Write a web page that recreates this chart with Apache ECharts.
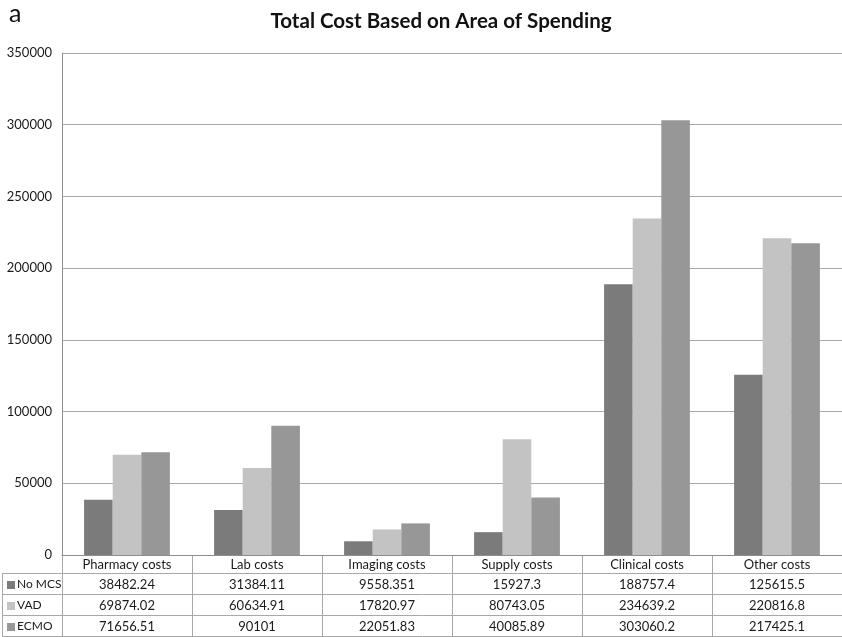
<!DOCTYPE html>
<html>
<head>
<meta charset="utf-8">
<script src="https://cdn.jsdelivr.net/npm/echarts@6/dist/echarts.min.js"></script>
<style>
html,body{margin:0;padding:0;background:#fff;}
#main{width:842px;height:637px;}
</style>
</head>
<body>
<div id="main"></div>
<script>
const categories = ['Pharmacy costs', 'Lab costs', 'Imaging costs', 'Supply costs', 'Clinical costs', 'Other costs'];
const seriesNames = ['No MCS', 'VAD', 'ECMO'];
const noMCS = [38482.24, 31384.11, 9558.351, 15927.3, 188757.4, 125615.5];
const vad = [69874.02, 60634.91, 17820.97, 80743.05, 234639.2, 220816.8];
const ecmo = [71656.51, 90101, 22051.83, 40085.89, 303060.2, 217425.1];
const tableText = [
  ['38482.24', '31384.11', '9558.351', '15927.3', '188757.4', '125615.5'],
  ['69874.02', '60634.91', '17820.97', '80743.05', '234639.2', '220816.8'],
  ['71656.51', '90101', '22051.83', '40085.89', '303060.2', '217425.1']
];
const colors = ['#7b7b7b', '#c3c3c3', '#979797'];

const FONT = 'Lato, "Open Sans", sans-serif';
const GRID = { left: 62, top: 53, width: 789, height: 502 };
const chart = echarts.init(document.getElementById('main'), null, { renderer: 'canvas' });

chart.setOption({
  animation: false,
  backgroundColor: '#ffffff',
  title: {
    text: 'Total Cost Based on Area of Spending',
    left: 436, top: 6, textAlign: 'center',
    textStyle: { fontFamily: FONT, fontSize: 20.5, fontWeight: 'bold', color: '#111' }
  },
  grid: GRID,
  xAxis: {
    type: 'category', data: categories,
    axisLabel: { show: false }, axisTick: { show: false },
    axisLine: { lineStyle: { color: '#8e8e8e', width: 1 } }
  },
  yAxis: {
    type: 'value', min: 0, max: 350000, interval: 50000,
    axisLabel: { fontFamily: FONT, fontSize: 13, color: '#1a1a1a', margin: 10, formatter: v => String(v) },
    axisLine: { show: true, lineStyle: { color: '#8e8e8e', width: 1 } },
    axisTick: { show: false },
    splitLine: { lineStyle: { color: '#a8a8a8', width: 1 } }
  },
  series: [noMCS, vad, ecmo].map((d, i) => ({
    name: seriesNames[i], type: 'bar', data: d,
    barGap: '0%', barCategoryGap: '34%',
    itemStyle: { color: colors[i] }
  }))
});

// Data table below the axis, derived from axis positions
const centers = categories.map((c, i) => chart.convertToPixel({ xAxisIndex: 0 }, i));
const cw = centers[1] - centers[0];
const y0 = chart.convertToPixel({ yAxisIndex: 0 }, 0);
const headerH = 18;
const rowH = 21;
const tableLeft = 2;
const tableRight = GRID.left + GRID.width;
const lineColor = '#a8a8a8';
const g = [];
const rowsBottom = y0 + headerH + rowH * 3;
const txt = '13px ' + FONT;
// label "a"
g.push({ type: 'text', left: 9, top: 1, style: { text: 'a', font: '25px ' + FONT, fill: '#111' } });
// vertical lines
for (let i = 0; i <= categories.length; i++) {
  const x = Math.round(centers[0] - cw / 2 + i * cw) + 0.5;
  g.push({ type: 'line', shape: { x1: x, y1: y0, x2: x, y2: rowsBottom }, style: { stroke: lineColor, lineWidth: 1 } });
}
g.push({ type: 'line', shape: { x1: tableLeft + 0.5, y1: y0 + headerH, x2: tableLeft + 0.5, y2: rowsBottom }, style: { stroke: lineColor, lineWidth: 1 } });
// horizontal lines
for (let r = 1; r <= 4; r++) {
  const y = Math.round(y0 + headerH + (r - 1) * rowH) + 0.5;
  g.push({ type: 'line', shape: { x1: tableLeft, y1: y, x2: tableRight, y2: y }, style: { stroke: lineColor, lineWidth: 1 } });
}
// header texts
categories.forEach((c, i) => {
  g.push({ type: 'text', x: centers[i], y: y0 + headerH / 2 + 1,
    style: { text: c, font: txt, fill: '#1a1a1a', align: 'center', verticalAlign: 'middle' } });
});
// rows
tableText.forEach((row, r) => {
  const yc = y0 + headerH + r * rowH + rowH / 2 + 1;
  g.push({ type: 'rect', shape: { x: 7, y: Math.round(yc - 4), width: 8, height: 8 }, style: { fill: colors[r] } });
  g.push({ type: 'text', x: 17, y: yc, style: { text: seriesNames[r], font: '12px ' + FONT, fill: '#1a1a1a', align: 'left', verticalAlign: 'middle' } });
  row.forEach((v, i) => {
    g.push({ type: 'text', x: centers[i], y: yc,
      style: { text: v, font: txt, fill: '#1a1a1a', align: 'center', verticalAlign: 'middle' } });
  });
});
chart.setOption({ graphic: g });
</script>
</body>
</html>
